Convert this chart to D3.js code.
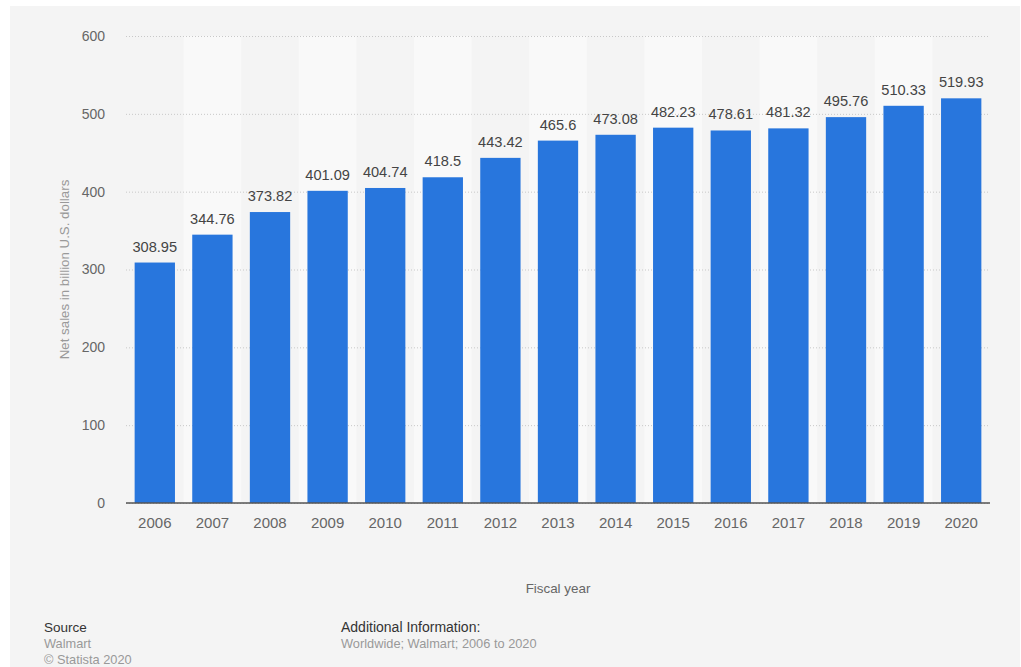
<!DOCTYPE html>
<html><head><meta charset="utf-8">
<script src="https://cdn.jsdelivr.net/npm/d3@7"></script>
<style>
html,body{margin:0;padding:0;background:#fff;}
svg{display:block;font-family:"Liberation Sans",Arial,Helvetica,sans-serif;}
</style></head>
<body><svg id="c" width="1021" height="667"></svg>
<script>
const years = ["2006","2007","2008","2009","2010","2011","2012","2013","2014","2015","2016","2017","2018","2019","2020"];
const sales = [308.95,344.76,373.82,401.09,404.74,418.5,443.42,465.6,473.08,482.23,478.61,481.32,495.76,510.33,519.93];
const salesLabels = ["308.95","344.76","373.82","401.09","404.74","418.5","443.42","465.6","473.08","482.23","478.61","481.32","495.76","510.33","519.93"];
const yTicks = [0,100,200,300,400,500,600];

const svg = d3.select("#c");
svg.append("rect").attr("x",10).attr("y",6).attr("width",1010).attr("height",661).attr("fill","#f4f4f4");

const L=126, R=990, T=36, B=503;
const x = d3.scaleBand().domain(years).range([L,R]).paddingInner(0.3).paddingOuter(0.15);
const xBand = d3.scaleBand().domain(years).range([L,R]).padding(0);
const y = d3.scaleLinear().domain([0,600]).range([B,T]);

// alternating bands
svg.append("g").selectAll("rect").data(years.filter((d,i)=>i%2===1)).join("rect")
  .attr("x",d=>xBand(d)).attr("width",xBand.bandwidth())
  .attr("y",T).attr("height",B-T).attr("fill","#f9f9f9");

// grid
const yAxis = d3.axisLeft(y).tickValues(yTicks).tickSize(-(R-L)).tickPadding(21).tickFormat(d3.format("d"));
const gy = svg.append("g").attr("transform",`translate(${L},0)`).call(yAxis);
gy.select(".domain").remove();
gy.selectAll(".tick line").attr("stroke","#c8c8c8").attr("stroke-dasharray","1,2");
gy.selectAll(".tick text").attr("fill","#666").attr("font-size",14).attr("font-family","Liberation Sans, Arial, sans-serif");

// bars
svg.append("g").selectAll("rect").data(years).join("rect")
  .attr("x",d=>x(d)).attr("width",x.bandwidth())
  .attr("y",(d,i)=>y(sales[i])).attr("height",(d,i)=>B-y(sales[i]))
  .attr("fill","#2876dd");

// value labels
svg.append("g").selectAll("text").data(years).join("text")
  .attr("x",d=>x(d)+x.bandwidth()/2).attr("y",(d,i)=>y(sales[i])-11)
  .attr("text-anchor","middle").attr("font-size",14.6).attr("fill","#444")
  .text((d,i)=>salesLabels[i]);

// x axis
const xAxis = d3.axisBottom(xBand).tickSize(0).tickPadding(14);
const gx = svg.append("g").attr("transform",`translate(0,${B})`).call(xAxis);
gx.select(".domain").attr("stroke","#555").attr("stroke-width",1.5).attr("d",`M${L},0H${R}`);
gx.selectAll(".tick text").attr("fill","#666").attr("font-size",15).attr("font-family","Liberation Sans, Arial, sans-serif");

// axis titles
svg.append("text").attr("transform",`translate(69,${(T+B)/2}) rotate(-90)`)
  .attr("text-anchor","middle").attr("font-size",13.3).attr("fill","#999")
  .text("Net sales in billion U.S. dollars");
svg.append("text").attr("x",(L+R)/2).attr("y",593).attr("text-anchor","middle")
  .attr("font-size",13.4).attr("fill","#666").text("Fiscal year");

// footer
const f = svg.append("g").attr("font-size",12.8);
f.append("text").attr("x",44).attr("y",632).attr("fill","#333").attr("font-size",13.5).text("Source");
f.append("text").attr("x",44).attr("y",648).attr("fill","#999").text("Walmart");
f.append("text").attr("x",44).attr("y",664).attr("fill","#999").text("© Statista 2020");
f.append("text").attr("x",341).attr("y",632).attr("fill","#333").attr("font-size",14).text("Additional Information:");
f.append("text").attr("x",341).attr("y",648).attr("fill","#999").text("Worldwide; Walmart; 2006 to 2020");
</script></body></html>
